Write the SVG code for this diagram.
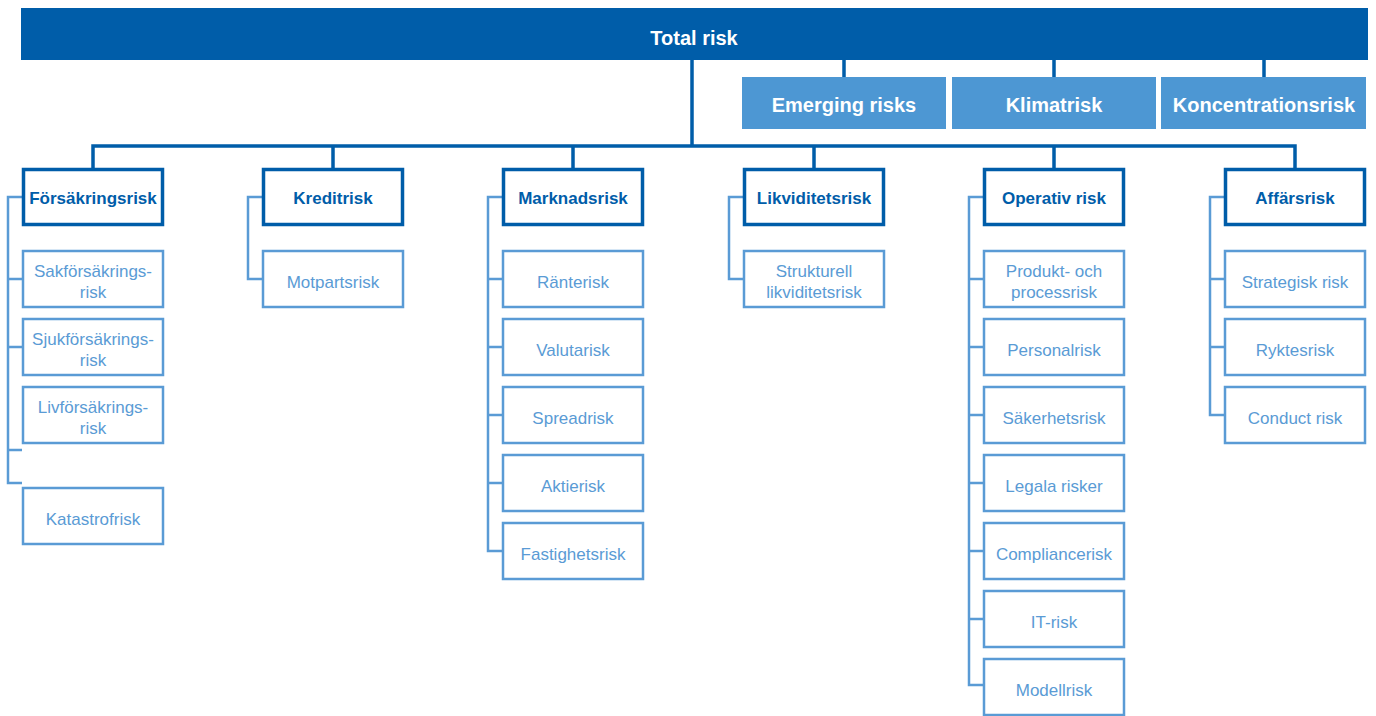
<svg xmlns="http://www.w3.org/2000/svg" width="1376" height="716" viewBox="0 0 1376 716">
<style>
.bar{fill:#005DA9}
.em{fill:#4D97D3}
.l1{fill:#fff;stroke:#005DA9;stroke-width:3.5}
.sub{fill:#fff;stroke:#5A9BD5;stroke-width:2.5}
.tt{font-family:"Liberation Sans",Arial,sans-serif;font-weight:bold;fill:#fff;text-anchor:middle;font-size:20px}
.t1{font-family:"Liberation Sans",Arial,sans-serif;font-weight:bold;fill:#005DA9;text-anchor:middle;font-size:17px}
.t2{font-family:"Liberation Sans",Arial,sans-serif;fill:#5A9BD5;text-anchor:middle;font-size:17px}
.cd{fill:none;stroke:#005DA9;stroke-width:3.5}
.cl{fill:none;stroke:#5A9BD5;stroke-width:2.5}
</style>
<g id="connectors">
<path class="cd" d="M692 60V146M93 168V146H1295V168M333 146V168M573 146V168M814 146V168M1054 146V168M844 60V77M1054 60V77M1264 60V77"/>
<path class="cl" d="M22 197H8V483H22M8 279H22M8 347H22M8 450H22"/>
<path class="cl" d="M262 197H248V279H262"/>
<path class="cl" d="M502 197H488V551H502M488 279H502M488 347H502M488 415H502M488 483H502"/>
<path class="cl" d="M743 197H729V279H743"/>
<path class="cl" d="M983 197H969V685H983M969 279H983M969 347H983M969 415H983M969 483H983M969 551H983M969 619H983"/>
<path class="cl" d="M1224 197H1210V415H1224M1210 279H1224M1210 347H1224"/>
</g>
<g id="total"><rect class="bar" x="21" y="8" width="1347" height="52"/><text class="tt" x="694" y="45">Total risk</text></g>
<g id="emerging"><rect class="em" x="742" y="77" width="204" height="52"/><text class="tt" x="844" y="112">Emerging risks</text></g>
<g id="klimat"><rect class="em" x="952" y="77" width="204" height="52"/><text class="tt" x="1054" y="112">Klimatrisk</text></g>
<g id="koncentration"><rect class="em" x="1161" y="77" width="205" height="52"/><text class="tt" x="1264" y="112">Koncentrationsrisk</text></g>

<g id="forsakring"><rect class="l1" x="23.5" y="169.5" width="139" height="55"/><text class="t1" x="93" y="204">Försäkringsrisk</text></g>
<g id="kredit"><rect class="l1" x="263.5" y="169.5" width="139" height="55"/><text class="t1" x="333" y="204">Kreditrisk</text></g>
<g id="marknad"><rect class="l1" x="503.5" y="169.5" width="139" height="55"/><text class="t1" x="573" y="204">Marknadsrisk</text></g>
<g id="likviditet"><rect class="l1" x="744.5" y="169.5" width="139" height="55"/><text class="t1" x="814" y="204">Likviditetsrisk</text></g>
<g id="operativ"><rect class="l1" x="984.5" y="169.5" width="139" height="55"/><text class="t1" x="1054" y="204">Operativ risk</text></g>
<g id="affars"><rect class="l1" x="1225.5" y="169.5" width="139" height="55"/><text class="t1" x="1295" y="204">Affärsrisk</text></g>

<g id="sak"><rect class="sub" x="23" y="251" width="140" height="56"/><text class="t2" x="93" y="277">Sakförsäkrings-</text><text class="t2" x="93" y="298">risk</text></g>
<g id="sjuk"><rect class="sub" x="23" y="319" width="140" height="56"/><text class="t2" x="93" y="345">Sjukförsäkrings-</text><text class="t2" x="93" y="366">risk</text></g>
<g id="liv"><rect class="sub" x="23" y="387" width="140" height="56"/><text class="t2" x="93" y="413">Livförsäkrings-</text><text class="t2" x="93" y="434">risk</text></g>
<g id="katastrof"><rect class="sub" x="23" y="488" width="140" height="56"/><text class="t2" x="93" y="525">Katastrofrisk</text></g>

<g id="motpart"><rect class="sub" x="263" y="251" width="140" height="56"/><text class="t2" x="333" y="288">Motpartsrisk</text></g>

<g id="ranta"><rect class="sub" x="503" y="251" width="140" height="56"/><text class="t2" x="573" y="288">Ränterisk</text></g>
<g id="valuta"><rect class="sub" x="503" y="319" width="140" height="56"/><text class="t2" x="573" y="356">Valutarisk</text></g>
<g id="spread"><rect class="sub" x="503" y="387" width="140" height="56"/><text class="t2" x="573" y="424">Spreadrisk</text></g>
<g id="aktie"><rect class="sub" x="503" y="455" width="140" height="56"/><text class="t2" x="573" y="492">Aktierisk</text></g>
<g id="fastighet"><rect class="sub" x="503" y="523" width="140" height="56"/><text class="t2" x="573" y="560">Fastighetsrisk</text></g>

<g id="strukturell"><rect class="sub" x="744" y="251" width="140" height="56"/><text class="t2" x="814" y="277">Strukturell</text><text class="t2" x="814" y="298">likviditetsrisk</text></g>

<g id="produkt"><rect class="sub" x="984" y="251" width="140" height="56"/><text class="t2" x="1054" y="277">Produkt- och</text><text class="t2" x="1054" y="298">processrisk</text></g>
<g id="personal"><rect class="sub" x="984" y="319" width="140" height="56"/><text class="t2" x="1054" y="356">Personalrisk</text></g>
<g id="sakerhet"><rect class="sub" x="984" y="387" width="140" height="56"/><text class="t2" x="1054" y="424">Säkerhetsrisk</text></g>
<g id="legala"><rect class="sub" x="984" y="455" width="140" height="56"/><text class="t2" x="1054" y="492">Legala risker</text></g>
<g id="compliance"><rect class="sub" x="984" y="523" width="140" height="56"/><text class="t2" x="1054" y="560">Compliancerisk</text></g>
<g id="it"><rect class="sub" x="984" y="591" width="140" height="56"/><text class="t2" x="1054" y="628">IT-risk</text></g>
<g id="modell"><rect class="sub" x="984" y="659" width="140" height="56"/><text class="t2" x="1054" y="696">Modellrisk</text></g>

<g id="strategisk"><rect class="sub" x="1225" y="251" width="140" height="56"/><text class="t2" x="1295" y="288">Strategisk risk</text></g>
<g id="rykte"><rect class="sub" x="1225" y="319" width="140" height="56"/><text class="t2" x="1295" y="356">Ryktesrisk</text></g>
<g id="conduct"><rect class="sub" x="1225" y="387" width="140" height="56"/><text class="t2" x="1295" y="424">Conduct risk</text></g>
</svg>
